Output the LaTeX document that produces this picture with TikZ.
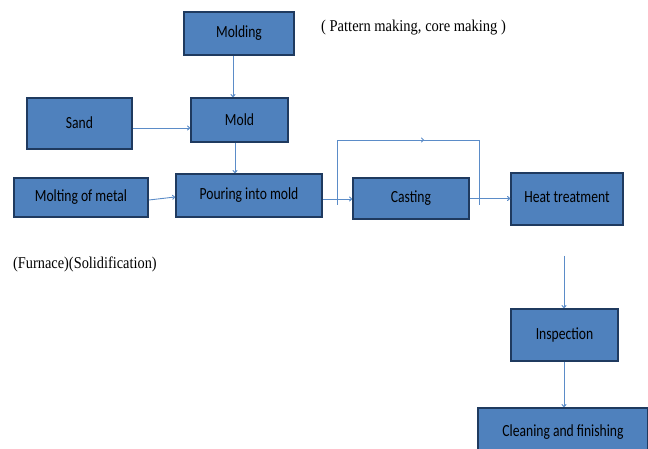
\documentclass[tikz,border=0pt]{standalone}
\usepackage{fontspec}
\usepackage{graphicx}
\usetikzlibrary{arrows.meta}
\setmainfont{Liberation Serif}
\newfontfamily\boxfont{Carlito}
\newcommand\sqz[1]{\scalebox{0.8}[1]{#1}}
\definecolor{boxfill}{HTML}{4F81BD}
\definecolor{boxline}{HTML}{1F3A5F}
\definecolor{linec}{HTML}{5B8CC8}
\tikzset{
  procbox/.style={draw=boxline, line width=1.8pt, fill=boxfill, inner sep=0pt,
    font=\boxfont\fontsize{17}{19}\selectfont, text=black},
  conn/.style={draw=linec, line width=0.9pt},
  arr/.style={conn, -{To[length=3pt,width=5pt]}},
  note/.style={font=\fontsize{16.5}{19}\selectfont, text=black, inner sep=0pt}
}
\begin{document}
\begin{tikzpicture}[x=1pt,y=-1pt]
\useasboundingbox (0,0) rectangle (648,449);
\node[procbox, minimum width=110pt, minimum height=43pt] (molding) at (239,33.5) {\sqz{Molding}};
\node[procbox, minimum width=105pt, minimum height=51pt] (sand) at (79.5,123.5) {\raisebox{2pt}{\sqz{Sand}}};
\node[procbox, minimum width=97pt, minimum height=44pt] (mold) at (239.5,120) {\sqz{Mold}};
\node[procbox, minimum width=134pt, minimum height=39pt] (molt) at (81,197.5) {\raisebox{-1.5pt}{\sqz{Molting of metal}}};
\node[procbox, minimum width=146pt, minimum height=43pt] (pour) at (249,195.5) {\sqz{Pouring into mold}};
\node[procbox, minimum width=116pt, minimum height=41pt] (cast) at (411,198.5) {\raisebox{-1.5pt}{\sqz{Casting}}};
\node[procbox, minimum width=112pt, minimum height=52pt] (heat) at (567,199) {\raisebox{3pt}{\sqz{Heat treatment}}};
\node[procbox, minimum width=107pt, minimum height=52pt] (insp) at (564.5,335) {\sqz{Inspection}};
\node[procbox, minimum width=170pt, minimum height=48pt] (clean) at (563,432) {\sqz{Cleaning and finishing}};

\node[note, anchor=west] (pat) at (321,28) {\scalebox{0.88}[1]{( Pattern making, core making )}};
\node[note, anchor=west] (furn) at (13,264) {\scalebox{0.87}[1]{(Furnace)(Solidification)}};

\draw[arr] ([xshift=-6pt]molding.south) -- ([xshift=-6pt]molding.south |- mold.north);
\draw[arr] ([yshift=-4.5pt]sand.east) -- ([yshift=-4.5pt]sand.east -| mold.west);
\draw[arr] ([xshift=-4.5pt]mold.south) -- ([xshift=-4.5pt]mold.south |- pour.north);
\draw[arr] ([yshift=-2.5pt]molt.east) -- ([yshift=-1.5pt]pour.west);
\draw[arr] ([yshift=-3.5pt]pour.east) -- ([yshift=-0.5pt]cast.west);
\draw[arr] ([yshift=0pt]cast.east) -- ([yshift=0pt]cast.east -| heat.west);

\coordinate (l1) at (337,205);
\coordinate (l2) at (337,140);
\coordinate (l3) at (479,140);
\coordinate (l4) at (479,205);
\coordinate (lm) at (424,140);
\draw[conn] (l1) -- (l2) -- (l3) -- (l4);
\draw[arr] (l2) -- (lm);

\coordinate (h1) at (564,256);
\draw[arr] (h1) -- (h1 |- insp.north);
\draw[arr] (insp.south -| h1) -- (h1 |- clean.north);
\end{tikzpicture}
\end{document}
